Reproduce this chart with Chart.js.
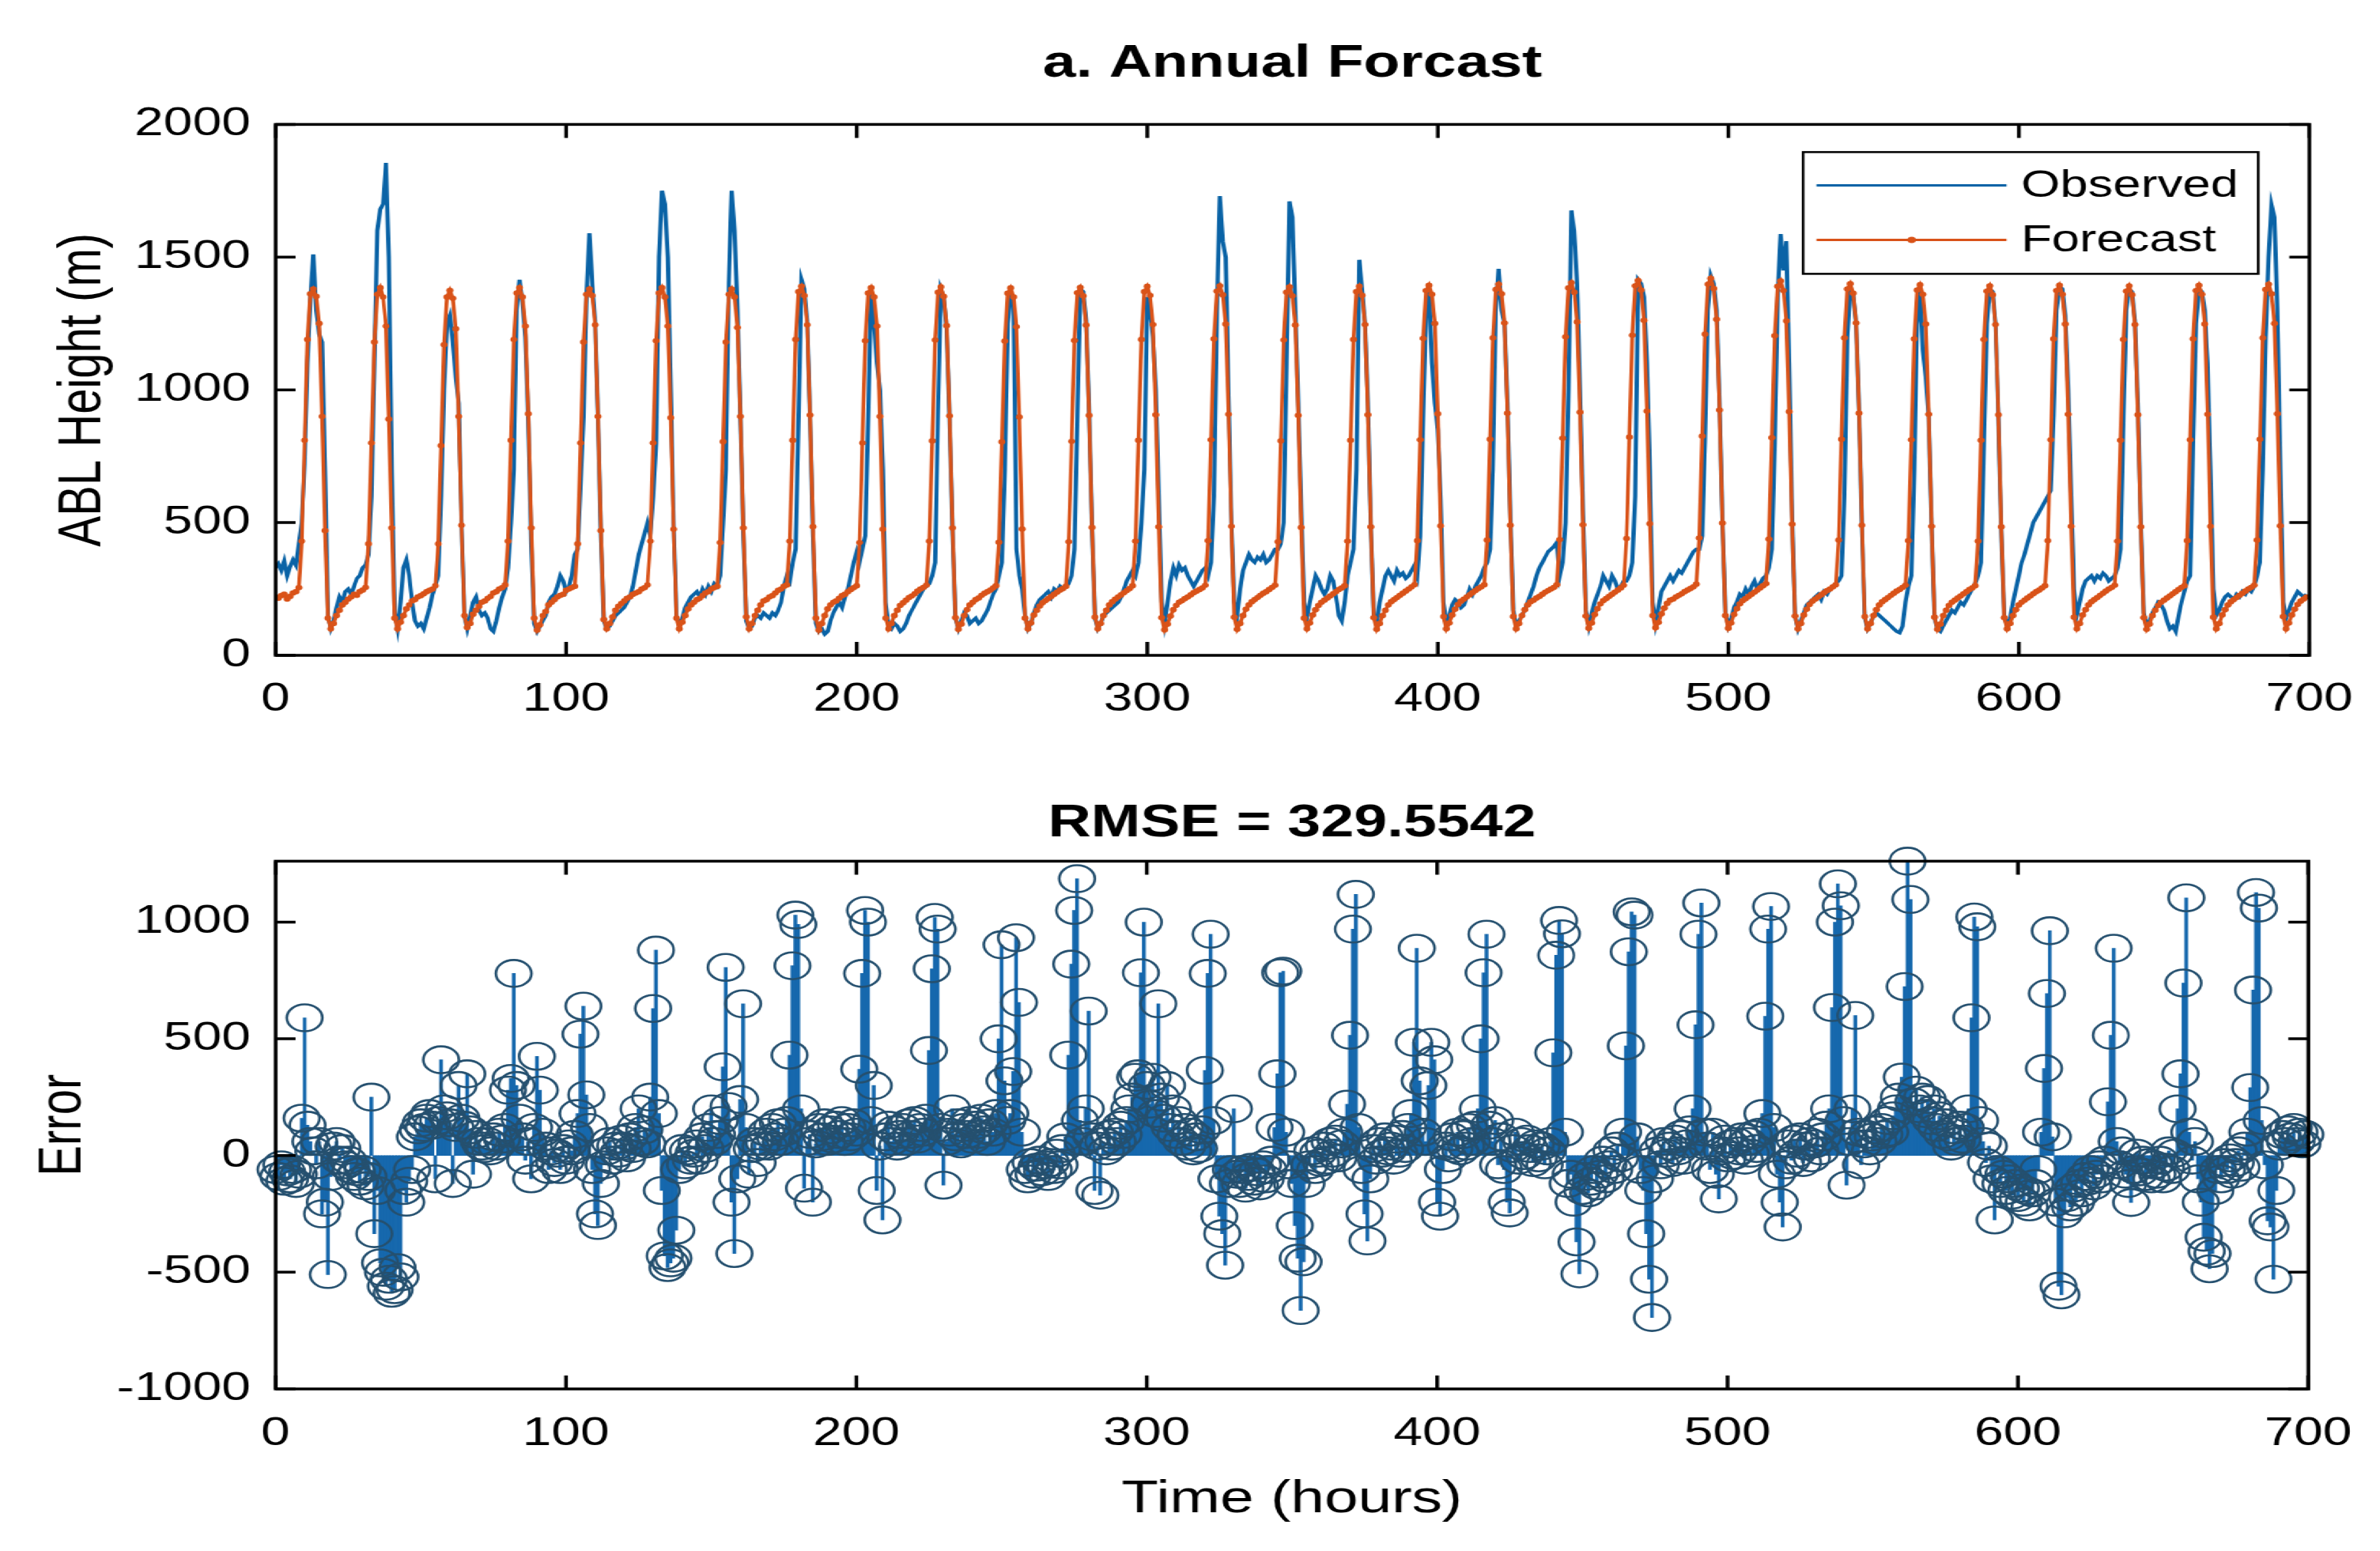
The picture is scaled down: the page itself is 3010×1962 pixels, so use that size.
<!DOCTYPE html>
<html>
<head>
<meta charset="utf-8">
<script src="https://cdn.jsdelivr.net/npm/chart.js@4.4.1/dist/chart.umd.min.js"></script>
<style>
html,body{margin:0;padding:0;background:#fff;overflow:hidden;}
#wrap{position:absolute;left:0;top:0;width:2280px;height:1962px;transform:scaleX(1.320175);transform-origin:0 0;background:#fff;}
canvas{display:block;}
</style>
</head>
<body>
<div id="wrap">
<canvas id="topChart" width="2280" height="981"></canvas>
<canvas id="botChart" width="2280" height="981"></canvas>
</div>
<script>
// ---------- DATA ----------
const topTitle = 'a. Annual Forcast';
const bottomTitle = 'RMSE = 329.5542';
const seriesNames = ['Observed', 'Forecast'];
const xTickLabels = [0, 100, 200, 300, 400, 500, 600, 700];
const yTicksTop = [0, 500, 1000, 1500, 2000];
const yTicksBottom = [-1000, -500, 0, 500, 1000];

// Observed ABL height (m), hourly
const observed = [
330,345,320,355,300,335,360,340,420, 500,720,1100,1340,1510,1300,1210,1180,700,150,100,130,180,220,200,240,
250,230,260,290,300,330,340, 380,600,1100,1600,1680,1700,1855,1500,700,160,100,200,330,360,300,200,
130,110,120,100,140,180,230,260, 300,600,1000,1250,1280,1180,1050,950,500,150,100,150,200,220,170,150,
160,140,100,90,130,180,220,250, 330,500,700,1300,1415,1330,1200,880,420,120,90,110,130,150,200,220,
230,260,300,280,240,260,300,380, 400,650,900,1350,1590,1400,1260,900,450,130,100,110,130,150,160,170,
180,200,220,260,320,380,420,460,500, 450,600,800,1500,1750,1700,1500,1000,500,150,110,140,180,200,220,230,
240,220,250,230,260,240,270,260, 300,500,700,1400,1750,1600,1300,900,460,130,100,110,140,150,140,160,
150,140,160,150,170,200,260,300, 280,350,400,900,1415,1380,1260,900,450,120,90,100,80,90,130,160,
180,200,180,220,250,300,350,390, 350,400,450,900,1380,1250,1100,1000,700,200,110,100,120,110,90,100,
120,150,170,190,210,230,250,260, 270,300,350,900,1380,1350,1230,890,470,140,100,130,160,150,120,130,
140,120,130,150,170,200,230,250, 300,350,700,1250,1360,1340,400,300,250,150,100,120,160,190,210,220,
230,240,220,250,240,260,250,260, 270,300,400,900,1380,1370,1260,920,480,140,100,120,150,160,170,180,
190,200,220,250,280,300,320, 300,350,500,700,1350,1300,1200,1000,600,200,120,200,280,330,300,340,
320,330,300,280,260,280,300,320,330, 300,350,600,1300,1730,1560,1500,1000,500,200,150,250,320,350,380,360,
350,370,360,380,350,360,380,400, 400,420,500,1100,1710,1650,1300,950,550,200,140,200,250,300,280,250,
230,250,300,280,220,150,130,200, 300,350,400,700,1490,1380,1250,950,480,150,120,200,250,300,320,300,
280,320,300,310,290,300,320,340, 300,450,900,1300,1380,1100,950,850,600,200,120,150,190,210,200,180,
190,220,250,230,260,280,300,330, 350,400,700,1300,1456,1300,1250,950,520,170,110,130,150,170,200,230,
260,300,330,350,370,390,400,410,425, 300,350,500,1000,1676,1600,1400,1000,550,170,110,160,200,230,260,300,
280,260,300,280,250,260,280, 280,300,350,600,1415,1400,1350,1100,700,200,120,180,240,260,280,300,
280,300,320,310,330,350,370,390,400, 400,450,800,1300,1430,1400,1300,950,500,160,110,140,180,200,230,220,
250,230,260,280,250,270,290,300, 330,400,800,1350,1587,1450,1560,1100,520,150,100,130,160,190,200,210,
220,230,210,240,230,250,260,270, 280,300,600,1200,1380,1360,1250,920,480,140,100,120,150,160,150,140,
130,120,110,100,90,85,110,200, 260,300,700,1250,1380,1150,1050,900,480,140,100,90,110,130,150,170,
160,180,200,190,210,230,250,270, 300,350,800,1250,1380,1370,1250,900,470,150,110,140,200,250,300,350,
380,420,460,500,520,540,560,580, 600,620,900,1300,1390,1380,1280,1000,600,250,150,200,250,280,290,300,
280,300,290,310,300,280,290,300, 330,400,900,1300,1380,1370,1260,950,500,160,110,130,160,180,200,190,
170,130,100,110,90,150,200,240, 280,300,800,1250,1380,1370,1300,1100,700,250,150,170,200,220,230,220,
210,230,220,240,230,250,240,260, 300,350,700,1200,1500,1697,1650,1300,700,200,140,170,200,220,240,230,
220,230
];

// Forecast ABL height (m), hourly
const forecast = [
220,215,225,230,212,222,235,240,255, 430,810,1190,1362,1380,1352,1250,900,470,140,100,120,150,170,190,200,
212,220,230,226,240,246,256, 420,800,1180,1360,1385,1350,1240,890,480,140,100,125,150,175,190,205,
210,220,225,232,240,245,250,262, 420,790,1170,1350,1375,1345,1230,900,490,150,105,120,155,170,185,200,
205,215,222,235,240,250,255,265, 430,810,1190,1365,1385,1350,1240,910,480,140,95,115,150,165,190,200,
210,220,226,230,245,250,255,260, 420,800,1180,1360,1380,1355,1245,900,470,135,100,120,145,170,185,195,
205,215,220,230,235,240,250,255,265, 430,800,1185,1365,1385,1350,1240,895,475,140,100,125,150,175,190,200,
210,215,225,235,240,250,255,260, 425,805,1180,1360,1380,1350,1235,900,480,145,100,120,150,170,190,205,
210,220,225,235,245,250,260,265, 430,810,1190,1370,1390,1355,1245,905,485,140,95,120,150,175,190,200,
205,215,225,230,240,248,255,262, 425,800,1185,1365,1385,1350,1240,900,475,140,100,120,150,170,188,198,
208,218,224,232,242,250,256,264, 430,808,1188,1368,1388,1352,1242,902,480,142,98,118,150,172,190,200,
210,216,226,234,240,246,254,262, 426,804,1184,1364,1384,1350,1238,898,476,140,100,122,152,170,186,198,
206,214,222,230,238,246,252,260, 428,806,1186,1366,1386,1354,1244,904,482,144,100,120,150,170,190,202,
212,220,228,236,244,252,262, 430,810,1190,1370,1390,1356,1246,906,484,142,96,118,148,172,188,200,
206,214,220,228,236,242,248,254,264, 432,812,1192,1372,1392,1358,1248,908,486,144,98,120,150,174,190,202,
210,218,226,234,240,248,256,264, 428,808,1188,1368,1388,1354,1244,904,482,140,100,122,152,172,188,200,
208,216,224,232,240,248,254,262, 430,810,1190,1370,1390,1356,1246,906,484,142,98,120,150,170,190,202,
210,218,226,234,242,250,258,266, 432,812,1194,1374,1394,1360,1250,910,488,146,100,122,152,174,192,204,
212,220,228,236,244,252,258,266, 434,814,1196,1378,1398,1362,1252,912,490,146,100,120,150,172,190,202,
208,216,222,230,238,244,250,256,266, 436,818,1200,1384,1404,1368,1256,916,492,148,102,122,154,176,194,206,
214,222,230,238,246,254,264, 440,822,1206,1392,1412,1376,1262,920,496,150,104,124,156,178,196,208,
212,220,226,232,240,246,252,258,268, 442,826,1210,1398,1420,1382,1266,924,498,150,102,122,154,176,194,206,
214,222,230,238,246,254,262,270, 438,820,1204,1390,1410,1374,1260,918,494,148,100,120,152,174,192,204,
212,220,228,236,244,250,258,266, 434,814,1196,1380,1400,1364,1252,912,490,146,100,120,150,172,190,202,
210,218,226,234,242,248,256,264, 432,812,1192,1376,1396,1360,1248,908,486,144,98,118,150,170,188,200,
208,216,224,232,240,248,254,262, 430,810,1190,1372,1392,1358,1246,906,484,142,100,120,150,172,190,200,
208,216,224,232,240,246,254,262, 432,812,1192,1374,1394,1360,1248,908,486,144,100,120,152,172,190,202,
210,218,226,234,242,250,256,264, 430,810,1190,1372,1392,1358,1246,906,484,142,98,118,150,170,188,200,
208,216,224,232,240,248,256,262, 432,812,1192,1374,1394,1360,1248,908,486,144,100,120,152,172,190,202,
210,218,226,234,242,250,256,264, 434,814,1196,1378,1398,1362,1250,910,488,146,100,122,152,174,192,204,
212,220
];

// Forecast error (m), hourly, one line per day
const errorValues = [
-60,-90,-40,-110,-70,-100,-60,-120,-80,160,590,130,60,20,-40,60,-250,-200,-510,-90,40,60,-20,30,
-40,-20,-60,-90,-70,-110,-60,-130,-90,250,-335,-150,-460,-500,-560,-530,-590,-575,-480,-520,-150,-200,-110,-60,
80,110,140,120,160,180,130,-100,150,410,200,170,140,-120,120,300,160,130,350,110,-80,90,60,40,
30,60,20,80,40,100,70,120,280,330,780,300,160,80,-20,60,-100,120,425,280,100,40,-60,20,
-30,10,-60,30,-20,50,20,90,180,520,640,260,120,-60,-250,-300,-120,-40,20,60,-20,40,10,70,
40,-10,80,30,120,200,60,110,50,250,630,880,180,-150,-430,-480,-460,-440,-320,-60,30,-40,20,-20,
10,50,-20,80,30,120,200,60,90,150,380,806,210,-200,-420,-100,240,650,120,-80,30,60,-30,40,
60,100,40,120,80,140,60,100,150,430,813,1030,990,200,-140,60,90,-200,50,120,80,140,60,110,
70,130,90,150,60,120,80,140,100,370,780,1050,1000,150,300,-150,40,-276,80,130,60,110,40,90,
120,60,140,90,150,70,120,100,160,450,800,1020,970,120,-127,60,100,200,80,140,50,120,90,150,
70,130,90,160,110,60,140,100,180,500,903,320,150,180,360,933,656,100,-60,-100,-30,-80,-50,-20,
-70,-40,-90,-30,-60,10,-40,30,80,430,820,1050,1186,150,60,200,619,80,-150,40,-170,60,20,90,
40,100,60,130,90,150,200,250,335,350,783,1000,300,220,335,180,650,250,160,300,120,200,90,150,
60,120,40,100,20,80,30,110,365,780,948,150,-100,-260,-335,-470,-120,-60,200,-80,-120,-60,-140,-90,
-50,-110,-70,-130,-40,-100,-60,-20,120,350,783,790,100,-40,-120,-300,-440,-664,-455,-120,-40,20,-60,10,
-30,40,-20,60,10,70,-10,50,100,220,515,970,1119,120,-60,-250,-366,-100,30,-20,60,10,80,20,
40,-20,70,10,90,30,120,180,485,888,320,100,60,300,485,410,-200,-260,-60,40,-10,80,30,100,
20,90,40,120,60,130,200,500,783,948,130,60,150,-40,80,-60,-200,-246,30,100,-20,60,0,70,
30,-30,50,-10,40,-40,20,60,440,858,1007,950,100,-120,-80,-200,-370,-507,-150,-90,-160,-110,-60,-130,
-80,-20,-100,-40,20,-60,40,-10,100,470,873,1044,1030,80,-60,-150,-335,-530,-694,-100,20,-40,60,10,
40,-30,70,20,90,-20,50,110,200,560,948,1082,100,40,-60,100,-80,-186,20,70,-10,50,0,60,
20,80,-20,60,10,90,30,100,180,597,970,1067,120,-80,-200,-306,-40,50,-20,70,10,80,-30,40,
60,-10,50,100,20,80,130,200,634,1000,1164,1070,150,-127,60,200,600,100,-40,50,90,20,80,110,
60,120,90,150,100,170,200,250,336,724,1261,1097,230,280,200,250,180,240,150,200,120,170,90,140,
80,40,110,60,130,70,120,200,590,1022,980,150,60,-30,40,-100,-276,-60,-120,-80,-150,-100,-170,-120,
-180,-140,-200,-150,-220,-160,-120,-60,100,373,694,963,80,-200,-560,-597,-250,-180,-220,-140,-200,-120,-160,-90,
-110,-60,-130,-80,-40,-100,-20,230,515,888,60,-40,20,-80,-120,-201,-60,10,-70,-20,-90,-30,-100,-40,
-80,-20,-100,-50,20,-60,10,200,350,739,1104,100,-20,60,-100,-200,-350,-410,-485,-420,-150,-60,-100,-30,
-60,-10,-80,-30,20,-50,40,100,291,709,1127,1060,150,-40,-280,-306,-530,-150,40,90,60,110,80,120,
60,100,50,90
];

// hour index for each sample
const hours = forecast.map((_, i) => i);

// ---------- STYLE ----------
const FONT = "'Liberation Sans', Arial, Helvetica, sans-serif";
const BLUE = '#0a63a6';
const ORANGE = '#D95319';
const STEM = '#1668ad';
const RING = '#25506f';

const toXY = arr => arr.map((v, i) => ({ x: hours[i], y: v }));

const framePlugin = {
  id: 'matlabFrame',
  afterDatasetsDraw(chart) {
    const { ctx, chartArea: a, scales } = chart;
    const x = scales.x, y = scales.y;
    ctx.save();
    ctx.strokeStyle = '#000';
    ctx.lineWidth = 3.5;
    ctx.beginPath();
    x.ticks.forEach(t => {
      const px = x.getPixelForValue(t.value);
      ctx.moveTo(px, a.bottom); ctx.lineTo(px, a.bottom - 17);
      ctx.moveTo(px, a.top); ctx.lineTo(px, a.top + 17);
    });
    y.ticks.forEach(t => {
      const py = y.getPixelForValue(t.value);
      ctx.moveTo(a.left, py); ctx.lineTo(a.left + 19, py);
      ctx.moveTo(a.right, py); ctx.lineTo(a.right - 19, py);
    });
    ctx.stroke();
    ctx.strokeRect(a.left, a.top, a.right - a.left, a.bottom - a.top);
    ctx.restore();
  }
};

const boxLegendPlugin = {
  id: 'boxLegend',
  afterDraw(chart) {
    const { ctx, chartArea: a } = chart;
    const L = a.right - 485, T = a.top + 35, W = 436, H = 154;
    ctx.save();
    ctx.fillStyle = '#fff';
    ctx.fillRect(L, T, W, H);
    ctx.strokeStyle = '#000';
    ctx.lineWidth = 2.5;
    ctx.strokeRect(L, T, W, H);
    const rows = [T + 42, T + 111];
    chart.data.datasets.forEach((ds, i) => {
      const yy = rows[i];
      ctx.strokeStyle = ds.borderColor;
      ctx.lineWidth = 3;
      ctx.beginPath();
      ctx.moveTo(L + 13, yy); ctx.lineTo(L + 195, yy);
      ctx.stroke();
      if (ds.pointRadius > 0) {
        ctx.fillStyle = ds.borderColor;
        ctx.beginPath();
        ctx.arc(L + 104, yy, 4, 0, Math.PI * 2);
        ctx.fill();
      }
      ctx.fillStyle = '#000';
      ctx.font = '48px ' + FONT;
      ctx.textAlign = 'left';
      ctx.textBaseline = 'middle';
      ctx.fillText(ds.label, L + 209, yy + 1);
    });
    ctx.restore();
  }
};

function xScale(heightPx, padTick, withTitle) {
  return {
    type: 'linear',
    min: 0, max: 700,
    offset: false,
    afterBuildTicks: s => { s.ticks = xTickLabels.map(v => ({ value: v })); },
    afterFit: s => { s.height = heightPx; },
    grid: { display: false, drawTicks: false },
    border: { display: false },
    ticks: {
      color: '#000', font: { family: FONT, size: 50 }, padding: padTick,
      maxRotation: 0, autoSkip: false, callback: v => String(v)
    },
    title: withTitle ? {
      display: true, text: 'Time (hours)', color: '#000',
      font: { family: FONT, size: 58 }, padding: { top: 0, bottom: 30 }
    } : { display: false }
  };
}

function yScale(min, max, tickList, label, titlePad) {
  return {
    type: 'linear',
    min: min, max: max,
    afterBuildTicks: s => { s.ticks = tickList.map(v => ({ value: v })); },
    afterFit: s => { s.width = 264; },
    grid: { display: false, drawTicks: false },
    border: { display: false },
    ticks: { color: '#000', font: { family: FONT, size: 50 }, padding: 24, callback: v => String(v) },
    title: {
      display: true, text: label, color: '#000',
      font: { family: FONT, size: 58 }, padding: { top: titlePad, bottom: 0 }
    }
  };
}

// ---------- TOP CHART ----------
new Chart(document.getElementById('topChart'), {
  type: 'line',
  data: {
    datasets: [
      {
        label: seriesNames[0], data: toXY(observed), order: 2,
        borderColor: BLUE, backgroundColor: BLUE, borderWidth: 4,
        pointRadius: 0, tension: 0, fill: false
      },
      {
        label: seriesNames[1], data: toXY(forecast), order: 1,
        borderColor: ORANGE, backgroundColor: ORANGE, borderWidth: 3.6,
        pointRadius: 3.4, pointBackgroundColor: ORANGE, pointBorderWidth: 0,
        tension: 0, fill: false
      }
    ]
  },
  options: {
    responsive: false, animation: false, devicePixelRatio: 1, events: [],
    layout: { padding: { left: 0, right: 67, top: 0, bottom: 0 } },
    scales: {
      x: xScale(152, 26, false),
      y: yScale(0, 2000, yTicksTop, 'ABL Height (m)', 45)
    },
    plugins: {
      legend: { display: false },
      tooltip: { enabled: false },
      title: {
        display: true, text: topTitle, fullSize: false, color: '#000',
        font: { family: FONT, size: 57, weight: 'bold' },
        padding: { top: 47, bottom: 42 }
      }
    }
  },
  plugins: [framePlugin, boxLegendPlugin]
});

// ---------- BOTTOM CHART (stem plot) ----------
new Chart(document.getElementById('botChart'), {
  type: 'scatter',
  data: {
    datasets: [
      {
        type: 'bar', label: 'stems', data: toXY(errorValues), order: 2,
        backgroundColor: STEM, borderWidth: 0, barThickness: 2.9, grouped: false
      },
      {
        type: 'scatter', label: 'Error', data: toXY(errorValues), order: 1,
        showLine: false, pointStyle: 'circle', pointRadius: 17,
        pointBorderWidth: 2.6, borderColor: RING, pointBorderColor: RING,
        pointBackgroundColor: 'rgba(0,0,0,0)', backgroundColor: 'rgba(0,0,0,0)', clip: false
      }
    ]
  },
  options: {
    responsive: false, animation: false, devicePixelRatio: 1, events: [],
    layout: { padding: { left: 0, right: 67, top: 0, bottom: 0 } },
    scales: {
      x: xScale(205, 27, true),
      y: yScale(-1000, 1261, yTicksBottom, 'Error', 26)
    },
    plugins: {
      legend: { display: false },
      tooltip: { enabled: false },
      title: {
        display: true, text: bottomTitle, fullSize: false, color: '#000',
        font: { family: FONT, size: 57, weight: 'bold' },
        padding: { top: 27, bottom: 13 }
      }
    }
  },
  plugins: [framePlugin]
});
</script>
</body>
</html>
